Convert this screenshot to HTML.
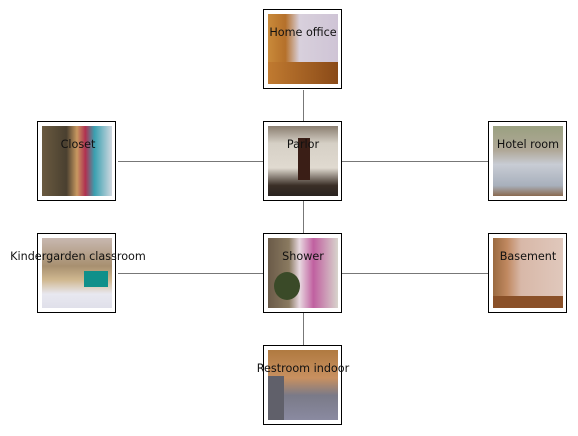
<!DOCTYPE html>
<html><head><meta charset="utf-8"><style>
body{margin:0;width:578px;height:436px;background:#fff;position:relative;overflow:hidden;font-family:"DejaVu Sans","Liberation Sans",sans-serif}
.n{position:absolute;width:77px;height:78px;border:1.5px solid #000;background:#fff;box-sizing:content-box}
.p{position:absolute;left:4px;top:4px;width:70px;height:70px}
.t{position:absolute;width:240px;text-align:center;font-size:11.2px;color:#111;line-height:13px}
.l{position:absolute;background:#777}
</style></head><body>
<div class="l" style="left:303px;top:90px;width:1px;height:255px"></div>
<div class="l" style="left:118px;top:161px;width:370px;height:1px"></div>
<div class="l" style="left:118px;top:273px;width:370px;height:1px"></div>

<div class="n" style="left:263px;top:9px"><div class="p" style="background:linear-gradient(90deg,#c98a3a 0%,#b5702a 25%,#d8d0dc 45%,#cfc4d6 100%);"><div style="position:absolute;bottom:0;width:100%;height:22px;background:linear-gradient(90deg,#c07a30,#8a4a18)"></div></div></div>
<div class="n" style="left:263px;top:121px"><div class="p" style="background:linear-gradient(180deg,#8a7e70 0%,#d6d0c6 25%,#e0dad0 60%,#3a2e26 85%,#2a2420 100%)"><div style="position:absolute;left:30px;top:12px;width:12px;height:42px;background:#3a1e16"></div></div></div>
<div class="n" style="left:37px;top:121px"><div class="p" style="background:linear-gradient(90deg,#6a5a40 0%,#4a4030 35%,#c89860 50%,#b03050 62%,#3aa0b0 75%,#d0d8e0 100%)"></div></div>
<div class="n" style="left:488px;top:121px"><div class="p" style="background:linear-gradient(180deg,#9aa080 0%,#b0a898 35%,#c8ccd4 55%,#a8b0bc 85%,#8a6a50 100%)"></div></div>
<div class="n" style="left:37px;top:233px"><div class="p" style="background:linear-gradient(180deg,#c8b8b0 0%,#a89070 40%,#d0b890 60%,#e8e8f0 80%,#e0e0ea 100%)"><div style="position:absolute;right:4px;top:33px;width:24px;height:16px;background:#10908a"></div></div></div>
<div class="n" style="left:263px;top:233px"><div class="p" style="background:linear-gradient(90deg,#6a5a48 0%,#8a7a60 30%,#e8d8e0 45%,#c060a0 65%,#d8d4cc 100%)"><div style="position:absolute;left:6px;top:34px;width:26px;height:28px;border-radius:50%;background:#3a4a28"></div></div></div>
<div class="n" style="left:488px;top:233px"><div class="p" style="background:linear-gradient(90deg,#9a6a40 0%,#c08860 20%,#d8b8a8 40%,#e0c8bc 100%)"><div style="position:absolute;bottom:0;width:100%;height:12px;background:#8a5028"></div></div></div>
<div class="n" style="left:263px;top:345px"><div class="p" style="background:linear-gradient(180deg,#b07a40 0%,#c89060 40%,#7a7a88 65%,#8a8aa0 100%)"><div style="position:absolute;left:0;top:26px;width:16px;height:44px;background:#60606a"></div></div></div>

<div class="t" style="left:183px;top:26px">Home office</div>
<div class="t" style="left:183px;top:138px">Parlor</div>
<div class="t" style="left:-42px;top:138px">Closet</div>
<div class="t" style="left:408px;top:138px">Hotel room</div>
<div class="t" style="left:-42px;top:250px">Kindergarden classroom</div>
<div class="t" style="left:183px;top:250px">Shower</div>
<div class="t" style="left:408px;top:250px">Basement</div>
<div class="t" style="left:183px;top:362px">Restroom indoor</div>
</body></html>
